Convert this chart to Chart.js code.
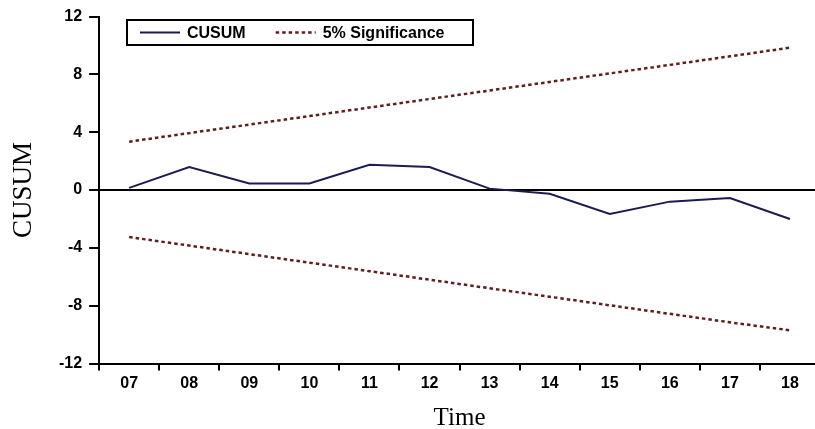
<!DOCTYPE html>
<html>
<head>
<meta charset="utf-8">
<title>CUSUM</title>
<script src="https://cdn.jsdelivr.net/npm/chart.js@4/dist/chart.umd.min.js"></script>
<style>
  html, body { margin: 0; padding: 0; background: #fff; overflow: hidden; }
  #wrap { width: 820px; height: 429px; }
</style>
</head>
<body>
<div id="wrap"><canvas id="chart" width="820" height="429"></canvas></div>
<script>
// years on the x axis (20xx)
const years = ["07", "08", "09", "10", "11", "12", "13", "14", "15", "16", "17", "18"];
const cusum = [0.15, 1.6, 0.45, 0.45, 1.75, 1.6, 0.1, -0.25, -1.65, -0.8, -0.55, -2.0];
const upperBound = [3.35, 3.94, 4.53, 5.12, 5.71, 6.3, 6.89, 7.48, 8.07, 8.66, 9.25, 9.85];
const lowerBound = [-3.25, -3.84, -4.43, -5.02, -5.61, -6.2, -6.79, -7.38, -7.97, -8.56, -9.15, -9.7];
const yTicks = [-12, -8, -4, 0, 4, 8, 12];

const navy = "#1c1c52";
const brown = "#5e1f1f";

// légende encadrée, posée dans la zone du graphique
const boxedLegend = {
  id: "boxedLegend",
  afterDraw(chart, args, opts) {
    const ctx = chart.ctx;
    const items = chart.data.datasets.filter((ds) => ds.label);
    ctx.save();
    ctx.fillStyle = "#fff";
    ctx.fillRect(opts.x, opts.y, opts.w, opts.h);
    ctx.lineWidth = 2;
    ctx.strokeStyle = "#000";
    ctx.strokeRect(opts.x, opts.y, opts.w, opts.h);

    ctx.font = "bold 16px 'Liberation Sans', Arial, sans-serif";
    ctx.textBaseline = "middle";
    const cy = opts.y + opts.h / 2;
    let x = opts.x + 13;
    for (const ds of items) {
      ctx.beginPath();
      ctx.strokeStyle = ds.borderColor;
      ctx.lineWidth = ds.borderWidth;
      ctx.setLineDash(ds.borderDash || []);
      ctx.moveTo(x, cy);
      ctx.lineTo(x + 40, cy);
      ctx.stroke();
      ctx.setLineDash([]);
      ctx.fillStyle = "#000";
      ctx.fillText(ds.label, x + 47, cy + 1);
      x += 47 + ctx.measureText(ds.label).width + 30;
    }
    ctx.restore();
  },
};

new Chart(document.getElementById("chart"), {
  type: "line",
  data: {
    labels: years,
    datasets: [
      {
        label: "CUSUM",
        data: cusum,
        borderColor: navy,
        borderWidth: 2,
        pointRadius: 0,
        tension: 0,
      },
      {
        label: "5% Significance",
        data: upperBound,
        borderColor: brown,
        borderWidth: 2.5,
        borderDash: [3.5, 3],
        pointRadius: 0,
      },
      {
        data: lowerBound,
        borderColor: brown,
        borderWidth: 2.5,
        borderDash: [3.5, 3],
        pointRadius: 0,
      },
    ],
  },
  plugins: [boxedLegend],
  options: {
    responsive: false,
    animation: false,
    layout: { padding: { top: 16, right: 0, left: 0, bottom: 0 } },
    plugins: {
      legend: { display: false },
      tooltip: { enabled: false },
      boxedLegend: { x: 127, y: 20, w: 346, h: 25 },
    },
    scales: {
      x: {
        offset: true,
        grid: {
          offset: true,
          drawOnChartArea: false,
          tickColor: "#000",
          tickLength: 7,
          lineWidth: 2,
        },
        border: { color: "#000", width: 2 },
        ticks: {
          color: "#000",
          padding: 3,
          maxRotation: 0,
          font: { family: "'Liberation Sans', Arial, sans-serif", size: 16, weight: "bold" },
        },
        title: {
          display: true,
          text: "Time",
          color: "#000",
          padding: { top: 12, bottom: 0 },
          font: { family: "'Liberation Serif', 'Times New Roman', serif", size: 25, lineHeight: 0.85 },
        },
      },
      y: {
        min: -12,
        max: 12,
        afterBuildTicks: (axis) => {
          axis.ticks = yTicks.map((v) => ({ value: v }));
        },
        grid: {
          // seule la ligne du zéro traverse le graphique
          color: (c) => (c.tick && c.tick.value === 0 ? "#000" : "rgba(0,0,0,0)"),
          tickColor: "#000",
          tickLength: 10,
          lineWidth: 2,
        },
        border: { color: "#000", width: 2 },
        ticks: {
          color: "#000",
          padding: 7,
          font: { family: "'Liberation Sans', Arial, sans-serif", size: 16, weight: "bold" },
        },
        title: {
          display: true,
          text: "CUSUM",
          color: "#000",
          padding: { top: 10, bottom: 15 },
          font: { family: "'Liberation Serif', 'Times New Roman', serif", size: 27, lineHeight: 1 },
        },
      },
    },
  },
});
</script>
</body>
</html>
